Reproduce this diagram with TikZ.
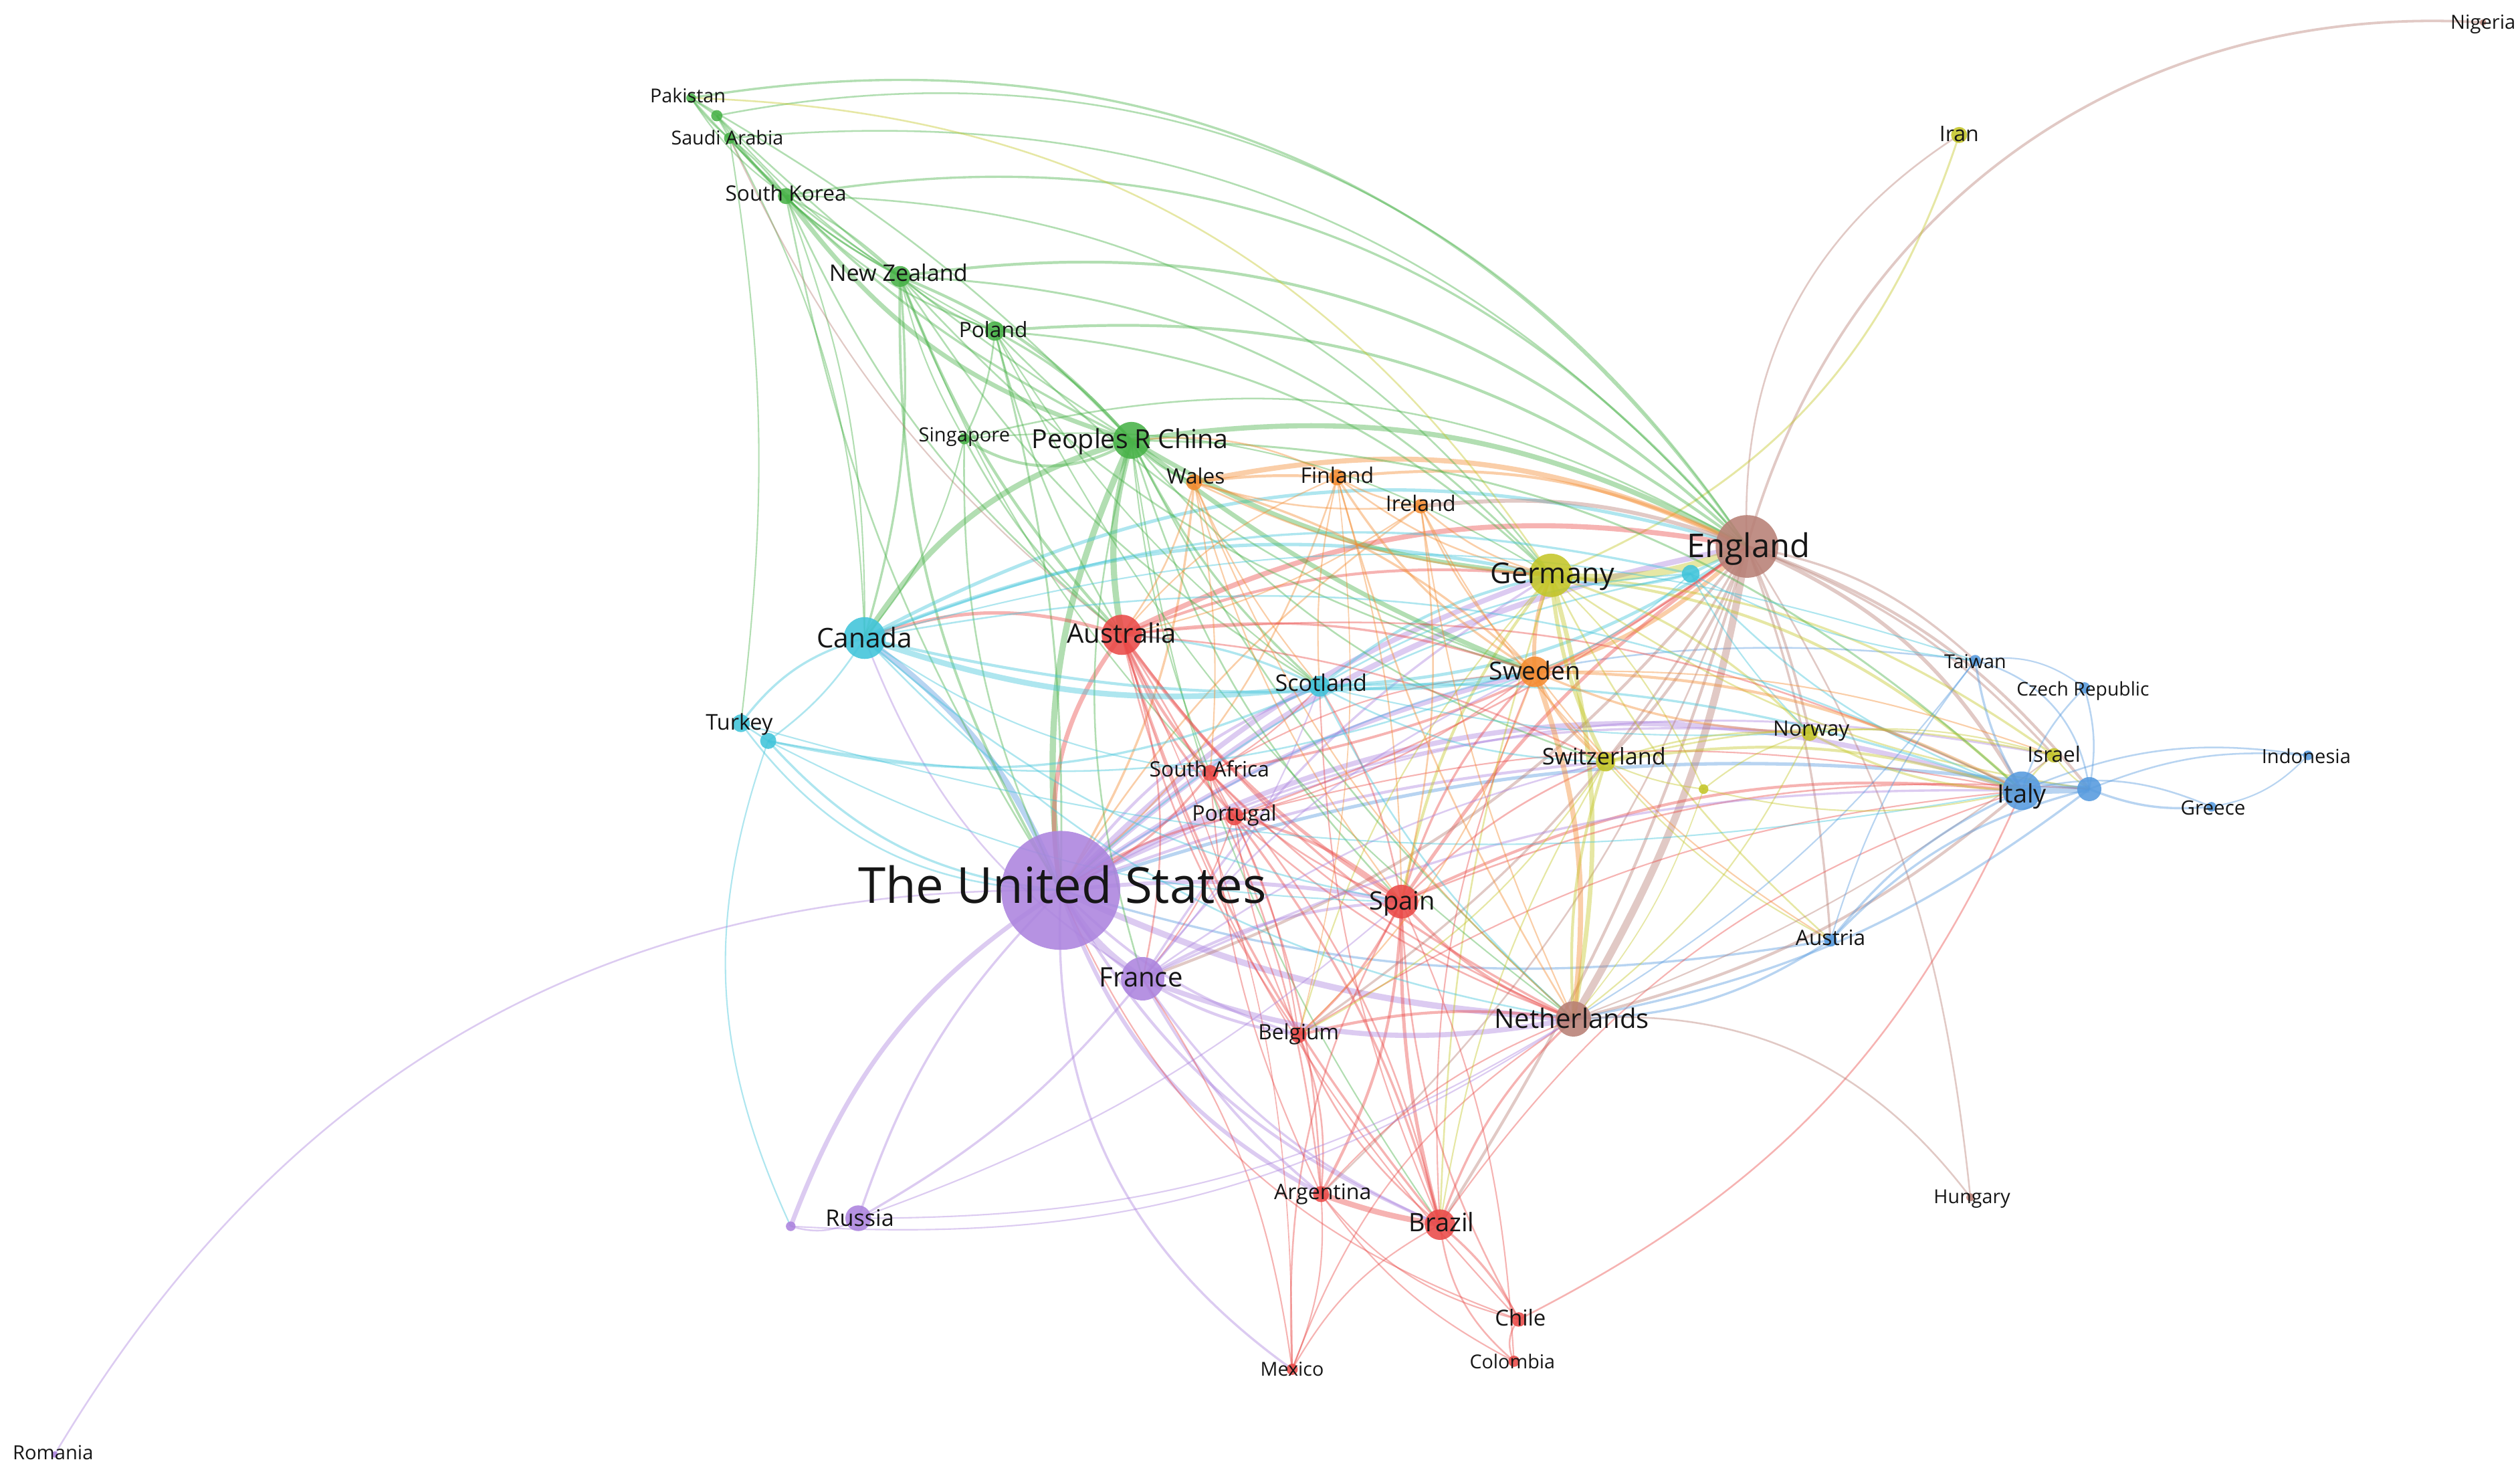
\documentclass[tikz,border=0pt]{standalone}
\usepackage{fontspec}
\setmainfont{Open Sans}
\pgfdeclarelayer{bg}
\pgfsetlayers{bg,main}
\definecolor{cP}{RGB}{172,132,222}
\definecolor{cR}{RGB}{234,74,72}
\definecolor{cG}{RGB}{72,178,72}
\definecolor{cC}{RGB}{64,196,218}
\definecolor{cY}{RGB}{196,198,40}
\definecolor{cO}{RGB}{244,140,48}
\definecolor{cB}{RGB}{184,128,118}
\definecolor{cL}{RGB}{86,154,222}
\definecolor{labc}{RGB}{22,22,22}
\newcommand\fsz[1]{\fontsize{#1}{#1}\selectfont}
\newcommand\eln[5]{\pgfmathsetmacro\bnd{1.3*(#5)}\draw[#3,line width=#4pt] (#1.center) to[bend left=\bnd] (#2.center);}
\tikzset{
 nd/.style={circle,inner sep=0pt,draw=none,fill opacity=0.88},
 lb/.style={anchor=base,inner sep=0pt,text=labc},
 eP/.style={draw=cP,draw opacity=0.42},
 eR/.style={draw=cR,draw opacity=0.42},
 eG/.style={draw=cG,draw opacity=0.42},
 eC/.style={draw=cC,draw opacity=0.42},
 eY/.style={draw=cY,draw opacity=0.42},
 eO/.style={draw=cO,draw opacity=0.42},
 eB/.style={draw=cB,draw opacity=0.42},
 eL/.style={draw=cL,draw opacity=0.42},
}
\begin{document}
\begin{tikzpicture}[x=0.02cm,y=-0.02cm]
\useasboundingbox (0,0) rectangle (1568,917);
% ---------------- nodes
\node[nd,fill=cP,minimum size=1.48cm] (usa) at (660,554) {};
\node[nd,fill=cB,minimum size=0.78cm] (eng) at (1087,340) {};
\node[nd,fill=cY,minimum size=0.54cm] (ger) at (965,358) {};
\node[nd,fill=cG,minimum size=0.46cm] (chn) at (704,274) {};
\node[nd,fill=cC,minimum size=0.52cm] (can) at (538,397) {};
\node[nd,fill=cR,minimum size=0.50cm] (aus) at (698,395) {};
\node[nd,fill=cO,minimum size=0.38cm] (swe) at (955,418) {};
\node[nd,fill=cC,minimum size=0.26cm] (sco) at (821,427) {};
\node[nd,fill=cY,minimum size=0.24cm] (swi) at (999,474) {};
\node[nd,fill=cR,minimum size=0.42cm] (spa) at (872,561) {};
\node[nd,fill=cP,minimum size=0.54cm] (fra) at (711,609) {};
\node[nd,fill=cB,minimum size=0.44cm] (net) at (979,634) {};
\node[nd,fill=cL,minimum size=0.48cm] (ita) at (1258,492) {};
\node[nd,fill=cL,minimum size=0.30cm] (bdot) at (1300,491) {};
\node[nd,fill=cR,minimum size=0.38cm] (bra) at (896,762) {};
\node[nd,fill=cP,minimum size=0.32cm] (rus) at (534,758) {};
\node[nd,fill=cP,minimum size=0.12cm] (pdot) at (492,763) {};
\node[nd,fill=cR,minimum size=0.20cm] (arg) at (822,743) {};
\node[nd,fill=cR,minimum size=0.20cm] (bel) at (808,644) {};
\node[nd,fill=cR,minimum size=0.20cm] (saf) at (753,481) {};
\node[nd,fill=cR,minimum size=0.22cm] (por) at (768,508) {};
\node[nd,fill=cO,minimum size=0.20cm] (wal) at (743,300) {};
\node[nd,fill=cO,minimum size=0.20cm] (fin) at (832,297) {};
\node[nd,fill=cO,minimum size=0.18cm] (ire) at (884,315) {};
\node[nd,fill=cG,minimum size=0.14cm] (sin) at (600,273) {};
\node[nd,fill=cG,minimum size=0.24cm] (pol) at (619,206) {};
\node[nd,fill=cG,minimum size=0.26cm] (nzl) at (560,172) {};
\node[nd,fill=cG,minimum size=0.20cm] (kor) at (489,122) {};
\node[nd,fill=cG,minimum size=0.14cm] (sau) at (454,86) {};
\node[nd,fill=cG,minimum size=0.14cm] (gdot) at (446,72) {};
\node[nd,fill=cG,minimum size=0.12cm] (pak) at (430,61) {};
\node[nd,fill=cC,minimum size=0.22cm] (tur) at (461,450) {};
\node[nd,fill=cC,minimum size=0.20cm] (tur2) at (478,461) {};
\node[nd,fill=cC,minimum size=0.22cm] (cdot) at (1052,357) {};
\node[nd,fill=cY,minimum size=0.12cm] (ydot) at (1060,491) {};
\node[nd,fill=cY,minimum size=0.20cm] (nor) at (1126,456) {};
\node[nd,fill=cY,minimum size=0.18cm] (isr) at (1278,470) {};
\node[nd,fill=cL,minimum size=0.14cm] (twn) at (1229,411) {};
\node[nd,fill=cL,minimum size=0.14cm] (cze) at (1297,428) {};
\node[nd,fill=cL,minimum size=0.12cm] (idn) at (1436,470) {};
\node[nd,fill=cL,minimum size=0.12cm] (grc) at (1376,502) {};
\node[nd,fill=cL,minimum size=0.16cm] (aut) at (1139,585) {};
\node[nd,fill=cB,minimum size=0.10cm] (hun) at (1226,745) {};
\node[nd,fill=cR,minimum size=0.18cm] (chl) at (945,821) {};
\node[nd,fill=cR,minimum size=0.14cm] (col) at (942,847) {};
\node[nd,fill=cR,minimum size=0.14cm] (mex) at (804,852) {};
\node[nd,fill=cP,minimum size=0.08cm] (rom) at (34,905) {};
\node[nd,fill=cB,minimum size=0.08cm] (nga) at (1545,14) {};
\node[nd,fill=cY,minimum size=0.20cm] (irn) at (1219,84) {};
% ---------------- edges
\begin{pgfonlayer}{bg}
\fill[white] (0,0) rectangle (1568,917);
% USA
\eln{rom}{usa}{eP}{0.6}{23}
\eln{pdot}{usa}{eP}{1.6}{14}
\eln{rus}{usa}{eP}{0.8}{10}
\eln{usa}{fra}{eP}{2.4}{-10}
\eln{usa}{eng}{eP}{2.0}{12}
\eln{usa}{ger}{eP}{1.8}{10}
\eln{usa}{ita}{eP}{1.8}{18}
\eln{usa}{chn}{eG}{2.2}{12}
\eln{usa}{aus}{eR}{1.6}{18}
\eln{can}{usa}{eL}{2.2}{12}
\eln{usa}{net}{eP}{2.2}{-8}
\eln{usa}{spa}{eP}{1.4}{6}
\eln{usa}{sco}{eP}{1.0}{12}
\eln{usa}{swe}{eP}{1.6}{8}
\eln{usa}{swi}{eP}{1.0}{6}
\eln{usa}{bra}{eP}{1.0}{-14}
\eln{usa}{arg}{eP}{1.4}{-16}
\eln{usa}{mex}{eP}{0.8}{-22}
\eln{usa}{bel}{eP}{0.9}{-10}
\eln{usa}{isr}{eP}{0.7}{14}
\eln{usa}{nor}{eP}{0.8}{12}
\eln{tur2}{usa}{eC}{0.8}{-16}
\eln{tur}{usa}{eC}{0.6}{-20}
\eln{usa}{sin}{eG}{0.6}{10}
\eln{usa}{nzl}{eG}{0.9}{12}
\eln{usa}{kor}{eG}{0.6}{8}
\eln{usa}{pol}{eG}{0.7}{-6}
\eln{usa}{wal}{eO}{0.8}{-10}
\eln{usa}{fin}{eO}{0.6}{-12}
\eln{usa}{ire}{eO}{0.6}{8}
\eln{usa}{aut}{eL}{0.8}{-10}
\eln{usa}{twn}{eL}{0.6}{16}
\eln{usa}{saf}{eR}{0.8}{-10}
\eln{usa}{por}{eR}{0.8}{8}
\eln{usa}{chl}{eR}{0.5}{-18}
\eln{usa}{bdot}{eL}{1.2}{10}
\eln{usa}{cdot}{eC}{0.6}{12}
% England
\eln{eng}{nga}{eB}{0.9}{30}
\eln{eng}{irn}{eB}{0.6}{23}
\eln{irn}{ger}{eY}{0.7}{19}
\eln{net}{eng}{eB}{2.6}{-8}
\eln{ger}{eng}{eY}{2.6}{-10}
\eln{chn}{eng}{eG}{1.8}{14}
\eln{aus}{eng}{eR}{1.8}{14}
\eln{can}{eng}{eC}{1.2}{17}
\eln{swe}{eng}{eO}{1.5}{-10}
\eln{sco}{eng}{eC}{1.1}{-12}
\eln{spa}{eng}{eR}{1.2}{8}
\eln{eng}{ita}{eB}{1.3}{14}
\eln{eng}{twn}{eB}{0.8}{12}
\eln{eng}{isr}{eB}{0.8}{10}
\eln{eng}{aut}{eB}{0.8}{6}
\eln{eng}{hun}{eB}{0.6}{10}
\eln{eng}{bdot}{eB}{1.0}{12}
\eln{eng}{nor}{eB}{0.9}{4}
\eln{swi}{eng}{eB}{1.0}{-8}
\eln{bra}{eng}{eB}{1.0}{-6}
\eln{bel}{eng}{eB}{0.8}{-10}
\eln{fra}{eng}{eB}{1.0}{-12}
\eln{arg}{eng}{eB}{0.6}{-10}
\eln{wal}{eng}{eO}{1.8}{14}
\eln{fin}{eng}{eO}{1.0}{12}
\eln{ire}{eng}{eB}{1.4}{10}
\eln{nzl}{eng}{eG}{1.0}{20}
\eln{kor}{eng}{eG}{0.8}{23}
\eln{pak}{eng}{eG}{0.8}{25}
\eln{sau}{eng}{eG}{0.6}{21}
\eln{gdot}{eng}{eG}{0.6}{26}
\eln{pol}{eng}{eG}{1.0}{16}
\eln{sin}{eng}{eG}{0.6}{17}
\eln{cdot}{eng}{eC}{1.0}{0}
\eln{saf}{eng}{eR}{0.9}{-10}
\eln{por}{eng}{eR}{0.6}{-6}
\eln{chl}{ita}{eR}{0.6}{-15}
% Germany
\eln{ger}{swe}{eO}{1.4}{-10}
\eln{ger}{swi}{eY}{1.4}{-8}
\eln{ger}{ita}{eY}{1.0}{14}
\eln{ger}{spa}{eY}{1.0}{-10}
\eln{ger}{net}{eY}{1.6}{10}
\eln{ger}{nor}{eY}{0.8}{10}
\eln{ger}{isr}{eY}{0.8}{12}
\eln{can}{ger}{eC}{1.2}{13}
\eln{sco}{ger}{eC}{1.0}{10}
\eln{chn}{ger}{eG}{1.6}{-10}
\eln{aus}{ger}{eR}{1.0}{10}
\eln{fra}{ger}{eP}{0.8}{10}
\eln{ger}{aut}{eY}{0.6}{-8}
\eln{ger}{bdot}{eY}{0.6}{-10}
\eln{pol}{ger}{eG}{0.7}{15}
\eln{nzl}{ger}{eG}{0.7}{17}
\eln{pak}{ger}{eY}{0.6}{21}
\eln{kor}{ger}{eG}{0.6}{20}
\eln{fin}{ger}{eO}{0.6}{-10}
\eln{wal}{ger}{eO}{0.6}{-8}
\eln{ire}{ger}{eO}{0.6}{-10}
\eln{ger}{bra}{eY}{0.6}{-6}
\eln{ger}{bel}{eY}{0.5}{-10}
\eln{ger}{ydot}{eY}{0.5}{8}
\eln{cdot}{ger}{eC}{0.8}{12}
\eln{sin}{ger}{eG}{0.5}{14}
% China
\eln{chn}{aus}{eG}{2.2}{-10}
\eln{chn}{can}{eG}{2.0}{-16}
\eln{kor}{chn}{eG}{1.6}{-14}
\eln{nzl}{chn}{eG}{1.0}{10}
\eln{pol}{chn}{eG}{0.8}{8}
\eln{sin}{chn}{eG}{1.0}{-25}
\eln{sau}{chn}{eG}{0.8}{-8}
\eln{pak}{chn}{eG}{0.6}{6}
\eln{gdot}{chn}{eG}{0.6}{-4}
\eln{chn}{swe}{eG}{1.6}{-6}
\eln{chn}{sco}{eG}{0.8}{-8}
\eln{chn}{spa}{eG}{0.6}{-10}
\eln{chn}{net}{eG}{0.6}{-8}
\eln{chn}{saf}{eG}{0.5}{-6}
\eln{chn}{ita}{eG}{0.7}{16}
\eln{chn}{fra}{eG}{0.6}{-12}
\eln{chn}{bra}{eG}{0.5}{-10}
\eln{chn}{swi}{eG}{0.6}{-12}
\eln{chn}{wal}{eG}{0.8}{-10}
\eln{chn}{fin}{eO}{0.6}{12}
% green cluster
\eln{nzl}{aus}{eG}{1.0}{-8}
\eln{nzl}{can}{eG}{0.8}{8}
\eln{nzl}{pol}{eG}{0.6}{-8}
\eln{kor}{nzl}{eG}{0.6}{6}
\eln{nzl}{sin}{eG}{0.5}{-6}
\eln{nzl}{swe}{eG}{0.6}{-12}
\eln{nzl}{sco}{eG}{0.6}{-10}
\eln{nzl}{saf}{eG}{0.5}{-8}
\eln{kor}{sau}{eG}{0.6}{-6}
\eln{kor}{pak}{eG}{0.5}{8}
\eln{kor}{pol}{eG}{0.6}{-10}
\eln{kor}{aus}{eG}{0.6}{-10}
\eln{kor}{can}{eG}{0.5}{8}
\eln{sau}{pak}{eG}{0.6}{6}
\eln{sau}{gdot}{eG}{0.6}{0}
\eln{sau}{can}{eG}{0.5}{10}
\eln{sau}{tur}{eG}{0.5}{6}
\eln{sau}{aus}{eB}{0.5}{-10}
\eln{sau}{nzl}{eG}{0.6}{-8}
\eln{pak}{gdot}{eG}{0.6}{0}
\eln{pak}{nzl}{eG}{0.6}{-6}
\eln{gdot}{nzl}{eG}{0.6}{-10}
\eln{gdot}{pol}{eG}{0.5}{-8}
\eln{pol}{aus}{eG}{0.6}{-6}
\eln{pol}{sin}{eG}{0.6}{8}
\eln{pol}{swe}{eG}{0.6}{-10}
\eln{pol}{sco}{eG}{0.5}{-8}
\eln{pol}{net}{eG}{0.5}{-10}
\eln{sin}{aus}{eG}{0.6}{-8}
\eln{sin}{can}{eG}{0.5}{10}
% Australia
\eln{aus}{can}{eR}{1.2}{-14}
\eln{aus}{spa}{eR}{1.2}{-8}
\eln{aus}{saf}{eR}{1.0}{-6}
\eln{aus}{por}{eR}{0.8}{-8}
\eln{aus}{bra}{eR}{0.8}{-8}
\eln{aus}{arg}{eR}{0.6}{10}
\eln{aus}{sco}{eC}{0.8}{8}
\eln{aus}{swe}{eR}{0.8}{10}
\eln{aus}{net}{eR}{0.8}{-10}
\eln{aus}{bel}{eR}{0.6}{-8}
\eln{aus}{chl}{eR}{0.5}{-10}
\eln{aus}{mex}{eR}{0.4}{10}
\eln{aus}{fra}{eR}{0.6}{12}
\eln{aus}{ita}{eR}{0.6}{12}
\eln{aus}{swi}{eR}{0.6}{8}
\eln{aus}{wal}{eO}{0.6}{-8}
\eln{aus}{fin}{eO}{0.5}{10}
\eln{aus}{ire}{eO}{0.5}{-8}
% Spain
\eln{spa}{bra}{eR}{1.2}{-6}
\eln{spa}{arg}{eR}{1.0}{10}
\eln{spa}{mex}{eR}{0.6}{-12}
\eln{spa}{chl}{eR}{0.6}{-10}
\eln{spa}{col}{eR}{0.5}{8}
\eln{spa}{por}{eR}{1.0}{-10}
\eln{spa}{bel}{eR}{0.8}{8}
\eln{spa}{net}{eR}{1.0}{-10}
\eln{spa}{ita}{eR}{1.0}{12}
\eln{fra}{spa}{eP}{1.0}{10}
\eln{spa}{saf}{eR}{0.6}{10}
\eln{spa}{sco}{eR}{0.6}{-8}
\eln{spa}{swe}{eR}{0.8}{10}
\eln{spa}{swi}{eR}{0.6}{8}
\eln{spa}{bdot}{eR}{0.6}{10}
% Latin America
\eln{arg}{bra}{eR}{2.0}{-4}
\eln{bra}{chl}{eR}{0.8}{8}
\eln{bra}{col}{eR}{0.6}{-16}
\eln{bra}{mex}{eR}{0.5}{-12}
\eln{bra}{por}{eR}{0.8}{-8}
\eln{bra}{bel}{eR}{0.6}{10}
\eln{bra}{net}{eR}{0.8}{10}
\eln{bra}{saf}{eR}{0.6}{-10}
\eln{fra}{bra}{eP}{0.8}{-12}
\eln{bra}{sco}{eR}{0.5}{8}
\eln{bra}{swe}{eR}{0.5}{10}
\eln{bra}{ita}{eR}{0.5}{14}
\eln{arg}{mex}{eR}{0.5}{10}
\eln{arg}{chl}{eR}{0.5}{-14}
\eln{arg}{bel}{eR}{0.6}{-10}
\eln{arg}{por}{eR}{0.6}{-8}
\eln{arg}{saf}{eR}{0.5}{8}
\eln{arg}{net}{eR}{0.5}{10}
\eln{fra}{arg}{eP}{0.9}{-8}
\eln{arg}{col}{eR}{0.5}{-10}
\eln{chl}{col}{eR}{0.6}{-25}
\eln{mex}{net}{eR}{0.5}{14}
\eln{mex}{fra}{eR}{0.5}{-10}
\eln{por}{saf}{eR}{0.6}{8}
\eln{por}{bel}{eR}{0.5}{-6}
\eln{por}{net}{eR}{0.6}{-8}
\eln{por}{fra}{eR}{0.5}{8}
\eln{por}{ita}{eR}{0.5}{10}
\eln{por}{swe}{eR}{0.5}{-8}
\eln{saf}{sco}{eR}{0.5}{-6}
\eln{saf}{net}{eR}{0.6}{-8}
\eln{saf}{bel}{eR}{0.5}{8}
\eln{saf}{swe}{eR}{0.5}{10}
\eln{bel}{net}{eR}{1.0}{8}
\eln{fra}{bel}{eP}{1.0}{-8}
\eln{bel}{ita}{eR}{0.5}{10}
% France / Russia
\eln{fra}{net}{eP}{1.8}{-12}
\eln{fra}{ita}{eP}{0.8}{10}
\eln{rus}{fra}{eP}{0.8}{-8}
\eln{fra}{swi}{eP}{0.6}{8}
\eln{can}{fra}{eP}{0.6}{-14}
\eln{fra}{sco}{eP}{0.5}{-8}
\eln{fra}{swe}{eP}{0.6}{10}
\eln{pdot}{rus}{eP}{0.6}{-18}
\eln{rus}{net}{eP}{0.5}{-12}
\eln{rus}{spa}{eP}{0.5}{-8}
\eln{pdot}{net}{eP}{0.5}{-14}
% cyan
\eln{can}{tur}{eC}{0.8}{-14}
\eln{can}{tur2}{eC}{0.6}{8}
\eln{can}{sco}{eC}{2.0}{-10}
\eln{can}{swe}{eC}{1.0}{-8}
\eln{can}{ita}{eC}{0.6}{14}
\eln{can}{spa}{eC}{0.6}{-12}
\eln{can}{net}{eC}{0.6}{-14}
\eln{can}{cdot}{eC}{0.8}{13}
\eln{can}{saf}{eC}{0.5}{-10}
\eln{can}{twn}{eC}{0.5}{13}
\eln{tur2}{sco}{eC}{0.8}{-14}
\eln{tur2}{swe}{eC}{0.6}{-12}
\eln{tur2}{spa}{eC}{0.5}{-10}
\eln{tur2}{pdot}{eC}{0.5}{-17}
\eln{tur}{ita}{eC}{0.5}{-10}
\eln{tur}{tur2}{eC}{0.6}{0}
\eln{sco}{swe}{eC}{1.0}{-6}
\eln{sco}{ita}{eC}{0.8}{8}
\eln{sco}{net}{eC}{0.6}{-8}
\eln{sco}{swi}{eC}{0.6}{-10}
\eln{sco}{cdot}{eC}{0.6}{10}
\eln{sco}{nor}{eC}{0.5}{-6}
\eln{cdot}{ita}{eC}{0.6}{-10}
\eln{cdot}{nor}{eC}{0.5}{-6}
\eln{cdot}{swe}{eC}{0.5}{8}
\eln{cdot}{twn}{eC}{0.5}{-8}
% orange
\eln{swe}{net}{eO}{1.8}{10}
\eln{swe}{ita}{eO}{1.0}{10}
\eln{swe}{swi}{eO}{1.0}{-10}
\eln{swe}{fin}{eO}{0.8}{10}
\eln{swe}{wal}{eO}{0.8}{-10}
\eln{swe}{ire}{eO}{0.6}{8}
\eln{swe}{nor}{eO}{0.8}{-8}
\eln{swe}{bel}{eO}{0.5}{10}
\eln{swe}{isr}{eO}{0.5}{8}
\eln{swe}{aut}{eO}{0.5}{-8}
\eln{wal}{fin}{eO}{1.0}{4}
\eln{wal}{ire}{eO}{0.6}{-8}
\eln{wal}{sco}{eO}{0.5}{-6}
\eln{wal}{spa}{eO}{0.5}{-8}
\eln{wal}{net}{eO}{0.5}{-10}
\eln{wal}{saf}{eO}{0.5}{6}
\eln{fin}{ire}{eO}{0.6}{-8}
\eln{fin}{net}{eO}{0.6}{-6}
\eln{fin}{spa}{eO}{0.5}{6}
\eln{fin}{sco}{eO}{0.5}{-6}
\eln{fin}{bel}{eO}{0.4}{8}
\eln{ire}{net}{eO}{0.5}{-6}
\eln{ire}{spa}{eO}{0.6}{8}
\eln{ire}{swi}{eO}{0.5}{-6}
% yellow
\eln{swi}{ita}{eY}{1.0}{10}
\eln{swi}{net}{eY}{1.0}{-8}
\eln{swi}{nor}{eY}{0.6}{8}
\eln{swi}{isr}{eY}{0.6}{10}
\eln{swi}{ydot}{eY}{0.5}{-6}
\eln{swi}{aut}{eY}{0.5}{-8}
\eln{swi}{bel}{eY}{0.5}{10}
\eln{swi}{bra}{eY}{0.5}{-8}
\eln{nor}{ita}{eY}{0.8}{-10}
\eln{nor}{isr}{eY}{0.5}{8}
\eln{nor}{net}{eY}{0.5}{10}
\eln{nor}{ydot}{eY}{0.5}{-8}
\eln{isr}{ita}{eY}{0.6}{-8}
\eln{isr}{bdot}{eY}{0.5}{-8}
\eln{ydot}{ita}{eY}{0.5}{-10}
\eln{ydot}{net}{eY}{0.4}{8}
% Netherlands
\eln{net}{ita}{eB}{1.0}{-10}
\eln{net}{aut}{eL}{0.8}{-12}
\eln{net}{hun}{eB}{0.6}{22}
\eln{net}{bdot}{eL}{0.8}{-10}
\eln{net}{twn}{eL}{0.5}{-8}
\eln{net}{isr}{eB}{0.5}{-6}
% blue
\eln{ita}{bdot}{eL}{2.6}{0}
\eln{twn}{ita}{eL}{0.8}{-8}
\eln{cze}{ita}{eL}{0.6}{-10}
\eln{ita}{grc}{eL}{0.6}{14}
\eln{ita}{idn}{eL}{0.6}{12}
\eln{aut}{ita}{eL}{0.8}{10}
\eln{bdot}{grc}{eL}{0.8}{-10}
\eln{bdot}{idn}{eL}{0.6}{10}
\eln{cze}{bdot}{eL}{0.6}{10}
\eln{twn}{bdot}{eL}{0.6}{26}
\eln{aut}{bdot}{eL}{0.8}{12}
\eln{twn}{cze}{eL}{0.5}{18}
\eln{twn}{aut}{eL}{0.5}{-8}
\eln{idn}{grc}{eL}{0.5}{14}
\end{pgfonlayer}
% ---------------- labels
\node[lb,font=\fsz{17.6}] (usa-t) at (661,562) {The United States};
\node[lb,font=\fsz{11.6}] (eng-t) at (1088,347) {England};
\node[lb,font=\fsz{10.2}] (ger-t) at (966,363) {Germany};
\node[lb,font=\fsz{9.3}] (chn-t) at (703,279) {Peoples R China};
\node[lb,font=\fsz{9.6}] (can-t) at (538,403) {Canada};
\node[lb,font=\fsz{9.5}] (aus-t) at (698,400) {Australia};
\node[lb,font=\fsz{8.8}] (swe-t) at (955,423) {Sweden};
\node[lb,font=\fsz{8.1}] (sco-t) at (822,430) {Scotland};
\node[lb,font=\fsz{8.1}] (swi-t) at (998,476) {Switzerland};
\node[lb,font=\fsz{9.0}] (spa-t) at (872.5,566) {Spain};
\node[lb,font=\fsz{9.5}] (fra-t) at (710,614) {France};
\node[lb,font=\fsz{9.5}] (net-t) at (978,640) {Netherlands};
\node[lb,font=\fsz{9.0}] (ita-t) at (1258,499.5) {Italy};
\node[lb,font=\fsz{9.0}] (bra-t) at (897,766.5) {Brazil};
\node[lb,font=\fsz{8.1}] (rus-t) at (535,763) {Russia};
\node[lb,font=\fsz{7.6}] (arg-t) at (823,746.5) {Argentina};
\node[lb,font=\fsz{7.5}] (bel-t) at (808,647) {Belgium};
\node[lb,font=\fsz{7.5}] (saf-t) at (752.5,483.5) {South Africa};
\node[lb,font=\fsz{7.6}] (por-t) at (768,511) {Portugal};
\node[lb,font=\fsz{7.7}] (tur-t) at (460,454) {Turkey};
\node[lb,font=\fsz{7.5}] (wal-t) at (744,301) {Wales};
\node[lb,font=\fsz{7.6}] (fin-t) at (832,300.5) {Finland};
\node[lb,font=\fsz{7.6}] (ire-t) at (884,318) {Ireland};
\node[lb,font=\fsz{7.5}] (pol-t) at (618,210) {Poland};
\node[lb,font=\fsz{8.1}] (nzl-t) at (559,175) {New Zealand};
\node[lb,font=\fsz{7.5}] (kor-t) at (489,125) {South Korea};
\node[lb,font=\fsz{6.8}] (sau-t) at (452.5,90) {Saudi Arabia};
\node[lb,font=\fsz{6.8}] (pak-t) at (428,64) {Pakistan};
\node[lb,font=\fsz{6.9}] (sin-t) at (600,274.7) {Singapore};
\node[lb,font=\fsz{7.5}] (nor-t) at (1127,458) {Norway};
\node[lb,font=\fsz{7.5}] (isr-t) at (1278,474) {Israel};
\node[lb,font=\fsz{6.8}] (twn-t) at (1229,416) {Taiwan};
\node[lb,font=\fsz{6.7}] (cze-t) at (1296,433) {Czech Republic};
\node[lb,font=\fsz{6.9}] (idn-t) at (1435,475) {Indonesia};
\node[lb,font=\fsz{7.0}] (grc-t) at (1377,507) {Greece};
\node[lb,font=\fsz{7.5}] (aut-t) at (1139,588) {Austria};
\node[lb,font=\fsz{6.8}] (hun-t) at (1227,749) {Hungary};
\node[lb,font=\fsz{7.8}] (chl-t) at (946,825) {Chile};
\node[lb,font=\fsz{6.8}] (col-t) at (941,851.5) {Colombia};
\node[lb,font=\fsz{6.8}] (mex-t) at (804,856) {Mexico};
\node[lb,font=\fsz{6.9}] (rom-t) at (33,908) {Romania};
\node[lb,font=\fsz{6.9}] (nga-t) at (1545,18) {Nigeria};
\node[lb,font=\fsz{7.6}] (irn-t) at (1219,88) {Iran};
\end{tikzpicture}
\end{document}
